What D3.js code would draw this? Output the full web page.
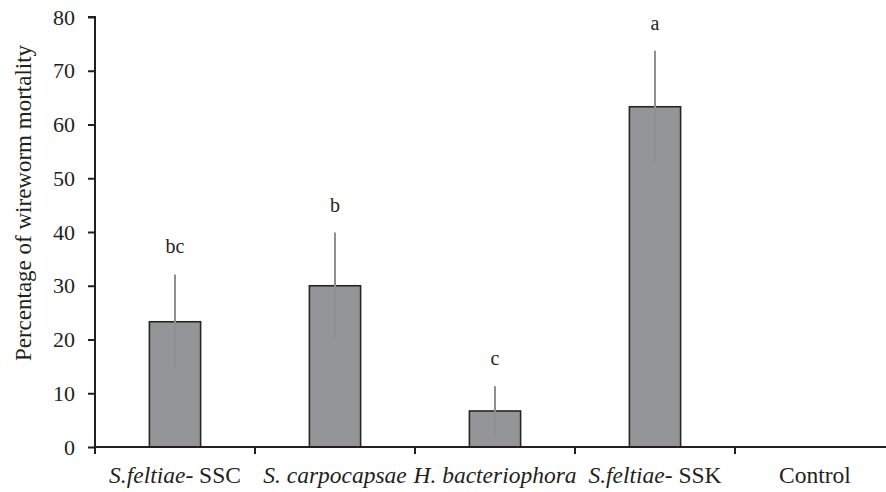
<!DOCTYPE html>
<html><head><meta charset="utf-8">
<script src="https://cdn.jsdelivr.net/npm/d3@7"></script>
<style>
body{margin:0;background:#fff;}
text{font-family:"Liberation Serif","Times New Roman",serif;fill:#231f20;}
</style></head>
<body><svg id="c" width="886" height="492"></svg>
<script>
const categories = ["S.feltiae- SSC","S. carpocapsae","H. bacteriophora","S.feltiae- SSK","Control"];
const labelParts = [
  [["S.feltiae-",true],[" SSC",false]],
  [["S. carpocapsae",true]],
  [["H. bacteriophora",true]],
  [["S.feltiae-",true],[" SSK",false]],
  [["Control",false]]
];
const means = [23.3, 30.0, 6.7, 63.3, 0];
const errors = [8.8, 9.9, 4.6, 10.4, 0];
const letters = ["bc","b","c","a",""];
const yTicks = [0,10,20,30,40,50,60,70,80];

const svg = d3.select("#c");
const x = d3.scaleBand().domain(categories).range([95, 895]).paddingInner(0.68).paddingOuter(0.34);
const xb = d3.scaleBand().domain(categories).range([95, 895]);
const y = d3.scaleLinear().domain([0, 80]).range([447, 17]);

// bars
svg.selectAll("rect.bar").data(categories).enter().append("rect")
  .attr("x", d => x(d)).attr("width", x.bandwidth())
  .attr("y", (d,i) => y(means[i])).attr("height", (d,i) => y(0) - y(means[i]))
  .attr("fill", "#939598").attr("stroke", "#262626").attr("stroke-width", 1.6)
  .style("display", (d,i) => means[i] > 0 ? null : "none");

// error bars
svg.selectAll("line.err").data(categories).enter().append("line")
  .attr("x1", d => xb(d) + xb.bandwidth()/2).attr("x2", d => xb(d) + xb.bandwidth()/2)
  .attr("y1", (d,i) => y(means[i] + errors[i])).attr("y2", (d,i) => y(means[i] - errors[i]))
  .attr("stroke", "#8f8f8f").attr("stroke-width", 2)
  .style("display", (d,i) => errors[i] > 0 ? null : "none");

// letters
svg.selectAll("text.let").data(categories).enter().append("text")
  .attr("x", d => xb(d) + xb.bandwidth()/2)
  .attr("y", (d,i) => y(means[i] + errors[i]) - 21)
  .attr("text-anchor", "middle").attr("font-size", 20)
  .text((d,i) => letters[i]);

// y axis
const ya = svg.append("g").attr("transform", "translate(95,0)")
  .call(d3.axisLeft(y).tickValues(yTicks).tickSize(7).tickPadding(13));
ya.attr("font-family", null);
ya.select(".domain").attr("stroke", "#231f20").attr("stroke-width", 2).attr("d", "M-7,17H0V447");
ya.selectAll(".tick line").attr("stroke", "#231f20").attr("stroke-width", 2);
ya.selectAll(".tick text").attr("font-size", 22).attr("fill", "#231f20");

// x axis
const xa = svg.append("g").attr("transform", "translate(0,447)")
  .call(d3.axisBottom(xb).tickSize(0).tickFormat(""));
xa.select(".domain").attr("stroke", "#231f20").attr("stroke-width", 2).attr("d", "M95,0H895");
xa.selectAll(".tick").remove();
const bounds = categories.map(d => xb(d));
svg.selectAll("line.xt").data(bounds).enter().append("line")
  .attr("x1", d => d).attr("x2", d => d).attr("y1", 447).attr("y2", 454)
  .attr("stroke", "#231f20").attr("stroke-width", 2);

// x labels
categories.forEach((c, i) => {
  const t = svg.append("text").attr("x", xb(c) + xb.bandwidth()/2).attr("y", 483)
    .attr("text-anchor", "middle").attr("font-size", 23.5);
  labelParts[i].forEach(p => {
    t.append("tspan").attr("font-style", p[1] ? "italic" : "normal").text(p[0]);
  });
});

// y title
svg.append("text").attr("transform", "translate(31,203) rotate(-90)")
  .attr("text-anchor", "middle").attr("font-size", 23)
  .text("Percentage of wireworm mortality");
</script></body></html>
